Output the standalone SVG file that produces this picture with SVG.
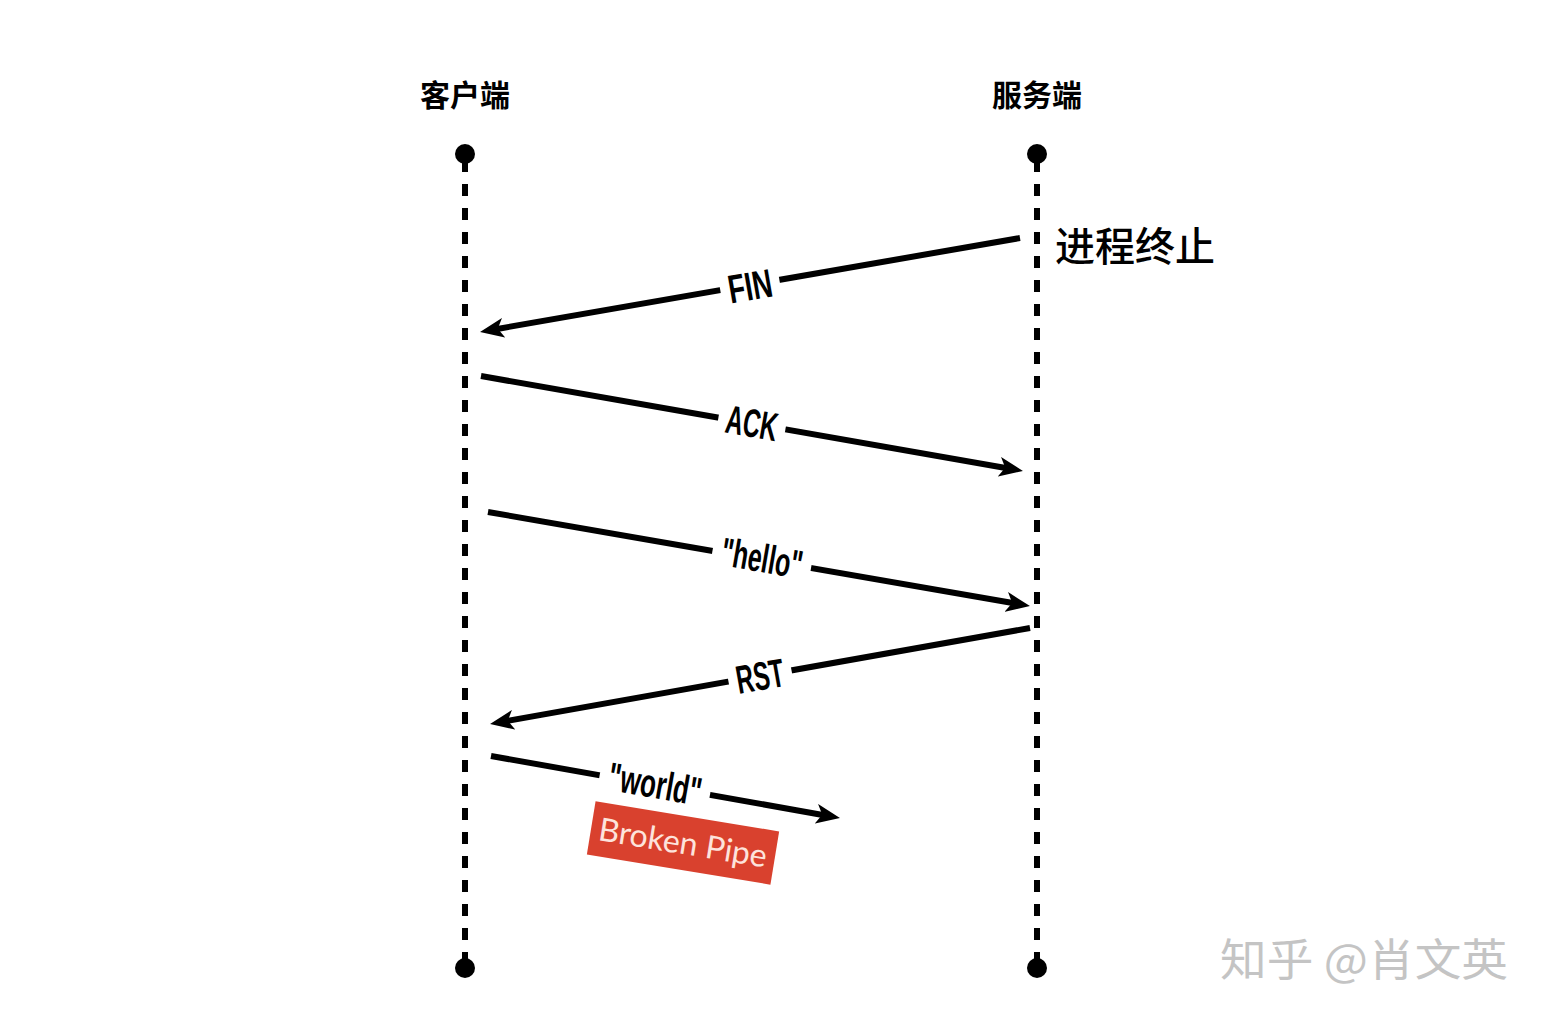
<svg xmlns="http://www.w3.org/2000/svg" width="1548" height="1022" viewBox="0 0 1548 1022">
<style>
.hdr{font-family:"Noto Sans CJK SC","Noto Sans",sans-serif;font-weight:700;font-size:30px;fill:#000;text-anchor:middle}
.life{stroke:#000;stroke-width:6;stroke-dasharray:12 12;fill:none}
.msg{stroke:#000;stroke-width:6;fill:none;marker-end:url(#ah)}
.lbl{font-family:"Liberation Sans",Arial,sans-serif;font-weight:700;font-size:40px;fill:#000;text-anchor:middle}
.gap{fill:#fff}
</style>
<defs>
<marker id="ah" viewBox="0 0 24 20" refX="8" refY="10" markerWidth="24" markerHeight="20" markerUnits="userSpaceOnUse" orient="auto">
<path d="M0,0 L24,10 L0,20 L6,10 z" fill="#000"/>
</marker>
</defs>
<rect width="1548" height="1022" fill="#fff"/>

<g id="client">
<text class="hdr" x="465" y="106">客户端</text>
<line class="life" x1="465" y1="160" x2="465" y2="962"/>
<circle cx="465" cy="154" r="10" fill="#000"/>
<circle cx="465" cy="968" r="10" fill="#000"/>
</g>

<g id="server">
<text class="hdr" x="1037" y="106">服务端</text>
<line class="life" x1="1037" y1="160" x2="1037" y2="962"/>
<circle cx="1037" cy="154" r="10" fill="#000"/>
<circle cx="1037" cy="968" r="10" fill="#000"/>
</g>

<g id="terminate">
<text x="1055" y="261" font-family="Noto Sans CJK SC,Noto Sans,sans-serif" font-size="40" font-weight="500" fill="#000">进程终止</text>
</g>

<g id="connectors">
<line class="msg" x1="1020" y1="238" x2="495.8" y2="329.2"/>
<line class="msg" x1="481" y1="376" x2="1007.2" y2="468.2"/>
<line class="msg" x1="488" y1="512" x2="1014.2" y2="603.3"/>
<line class="msg" x1="1030" y1="628" x2="505.8" y2="721.2"/>
<line class="msg" x1="491" y1="756" x2="824.2" y2="815.2"/>
</g>

<g id="labels">
<g transform="translate(750,286) rotate(-9.87)">
<rect class="gap" x="-30" y="-22" width="60" height="44"/>
<text class="lbl" x="0" y="14" textLength="44" lengthAdjust="spacingAndGlyphs">FIN</text>
</g>
<g transform="translate(752,423) rotate(9.94)">
<rect class="gap" x="-34" y="-22" width="68" height="44"/>
<text class="lbl" x="0" y="14" textLength="52" lengthAdjust="spacingAndGlyphs">ACK</text>
</g>
<g transform="translate(762,558) rotate(9.84)">
<rect class="gap" x="-50" y="-24" width="100" height="48"/>
<text class="lbl" x="0" y="14" textLength="82" lengthAdjust="spacingAndGlyphs">"hello"</text>
</g>
<g transform="translate(760,676) rotate(-10.08)">
<rect class="gap" x="-32" y="-22" width="64" height="44"/>
<text class="lbl" x="0" y="14" textLength="48" lengthAdjust="spacingAndGlyphs">RST</text>
</g>
<g transform="translate(655,784) rotate(10.07)">
<rect class="gap" x="-56" y="-24" width="112" height="48"/>
<text class="lbl" x="0" y="14" textLength="94" lengthAdjust="spacingAndGlyphs">"world"</text>
</g>
</g>

<g id="broken-pipe" transform="translate(683,843) rotate(9.3)">
<rect x="-93" y="-27" width="186" height="54" fill="#d9412e"/>
<text x="0" y="11" font-family="Lato,Open Sans,sans-serif" font-size="32" fill="#fde3dc" text-anchor="middle" textLength="170" lengthAdjust="spacingAndGlyphs">Broken Pipe</text>
</g>

<g id="watermark">
<text x="1220" y="976" font-family="Noto Sans CJK SC,Noto Sans,sans-serif" font-size="44" fill="#c4c4c4" textLength="288" lengthAdjust="spacingAndGlyphs">知乎 @肖文英</text>
</g>
</svg>
